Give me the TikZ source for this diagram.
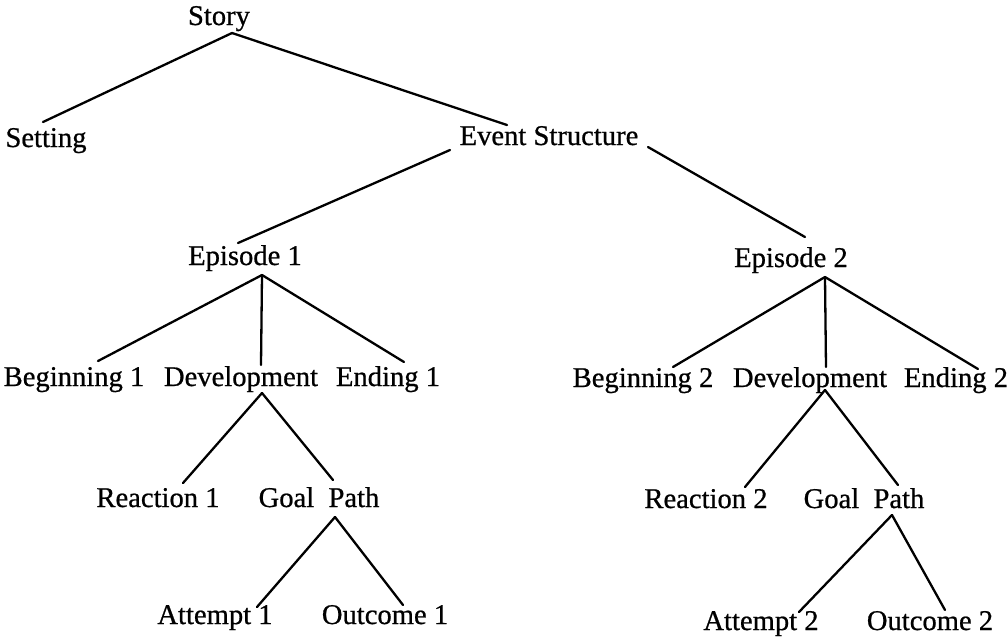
\documentclass[tikz,border=0pt]{standalone}
\usepackage{fontspec}
\setmainfont{Liberation Serif}
\newfontfamily\lblfont{Liberation Serif}[FakeBold=0.7]
\usetikzlibrary{calc}
\begin{document}
\begin{tikzpicture}[x=0.5pt,y=-0.5pt,
  lbl/.style={anchor=base,inner sep=0pt,font=\lblfont\fontsize{14.3}{17}\selectfont},
  edge/.style={line width=1.15pt,line cap=round}]
\useasboundingbox (0,0) rectangle (1008,639);
% nodes (positioned at text centre / baseline)
\node[lbl] (story)  at (219,25)  {Story};
\node[lbl] (setting) at (46,147) {Setting};
\node[lbl] (event)  at (549,145) {Event Structure};
\node[lbl] (ep1)    at (245,265) {Episode 1};
\node[lbl] (ep2)    at (791,267) {Episode 2};
\node[lbl] (beg1)   at (74,386)  {Beginning 1};
\node[lbl] (dev1)   at (241,386) {Development};
\node[lbl] (end1)   at (388,386) {Ending 1};
\node[lbl] (beg2)   at (643,387) {Beginning 2};
\node[lbl] (dev2)   at (810,387) {Development};
\node[lbl] (end2)   at (956,387) {Ending 2};
\node[lbl] (reac1)  at (158,507) {Reaction 1};
\node[lbl] (goal1)  at (319,507) {Goal\ \ Path};
\node[lbl] (reac2)  at (706,508) {Reaction 2};
\node[lbl] (goal2)  at (864,508) {Goal\ \ Path};
\node[lbl] (att1)   at (215,624) {Attempt 1};
\node[lbl] (out1)   at (385,624) {Outcome 1};
\node[lbl] (att2)   at (761,630) {Attempt 2};
\node[lbl] (out2)   at (930,630) {Outcome 2};
% connectors
\draw[edge] ($(story.base)+(13,8)$) -- ($(setting.base)+(-3,-25)$);
\draw[edge] ($(story.base)+(13,8)$) -- ($(event.base)+(-42,-20)$);
\draw[edge] ($(event.base)+(-99,5)$) -- ($(ep1.base)+(-7,-22)$);
\draw[edge] ($(event.base)+(99,2)$) -- ($(ep2.base)+(14,-30)$);
\draw[edge] ($(ep1.base)+(17,10)$) -- ($(beg1.base)+(24,-25)$);
\draw[edge] ($(ep1.base)+(17,10)$) -- ($(dev1.base)+(20,-21)$);
\draw[edge] ($(ep1.base)+(17,10)$) -- ($(end1.base)+(16,-24)$);
\draw[edge] ($(ep2.base)+(34,10)$) -- ($(beg2.base)+(30,-20)$);
\draw[edge] ($(ep2.base)+(34,10)$) -- ($(dev2.base)+(16,-20)$);
\draw[edge] ($(ep2.base)+(34,10)$) -- ($(end2.base)+(22,-18)$);
\draw[edge] ($(dev1.base)+(21,7)$) -- ($(reac1.base)+(25,-24)$);
\draw[edge] ($(dev1.base)+(21,7)$) -- ($(goal1.base)+(14,-27)$);
\draw[edge] ($(goal1.base)+(16,10)$) -- ($(att1.base)+(42,-17)$);
\draw[edge] ($(goal1.base)+(16,10)$) -- ($(out1.base)+(18,-19)$);
\draw[edge] ($(dev2.base)+(15,3)$) -- ($(reac2.base)+(39,-21)$);
\draw[edge] ($(dev2.base)+(15,3)$) -- ($(goal2.base)+(34,-23)$);
\draw[edge] ($(goal2.base)+(28,7)$) -- ($(att2.base)+(38,-18)$);
\draw[edge] ($(goal2.base)+(28,7)$) -- ($(out2.base)+(15,-20)$);
\end{tikzpicture}
\end{document}
